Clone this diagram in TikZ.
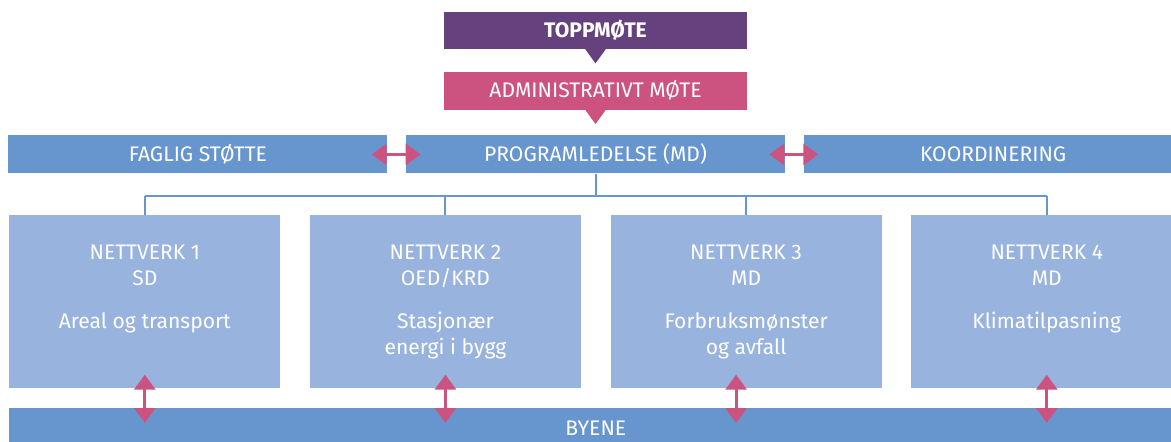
\documentclass[tikz,border=0pt]{standalone}
\usepackage{fontspec}
\setmainfont{Fira Sans}
\usetikzlibrary{positioning,calc,arrows.meta}
\definecolor{topplilla}{RGB}{101,66,126}
\definecolor{adminrosa}{RGB}{204,82,128}
\definecolor{morkbla}{RGB}{103,150,207}
\definecolor{lysbla}{RGB}{152,179,221}

\begin{document}
\begin{tikzpicture}[x=0.02cm,y=-0.02cm,
  font=\fontsize{12}{14.8}\selectfont,
  balk/.style={fill=#1,text=white,inner sep=0pt,minimum height=0.76cm},
  nettverk/.style={fill=lysbla,inner sep=0pt,minimum width=5.42cm,minimum height=3.46cm},
  nettekst/.style={text=white,align=center,inner sep=0pt},
  tre/.style={draw=morkbla,line width=0.04cm},
  dobbel/.style={draw=adminrosa,line width=0.06cm,
    {Triangle[length=0.3cm,width=0.42cm]}-{Triangle[length=0.3cm,width=0.42cm]}}]
  \useasboundingbox (0,0) rectangle (1171,442);
  \clip (0,0) rectangle (1171,442);
  \node[balk=topplilla,minimum width=6.06cm,minimum height=0.74cm] (topp) at (595.5,30.5) {\bfseries TOPPMØTE};
  \node[balk=adminrosa,minimum width=6.06cm] (admin) [below=0.44cm of topp] {ADMINISTRATIVT MØTE};
  \node[balk=morkbla,minimum width=7.58cm] (prog) [below=0.5cm of admin] {PROGRAMLEDELSE (MD)};
  \node[balk=morkbla,minimum width=7.58cm] (faglig) [left=0.36cm of prog] {FAGLIG STØTTE};
  \node[balk=morkbla,minimum width=7.58cm] (koord) [right=0.36cm of prog] {KOORDINERING};
  % pekere under toppmøte og administrativt møte
  \fill[topplilla] ($(topp.south)+(-10.5,-0.5)$) -- ++(21,0) -- ++(-10.5,14.5) -- cycle;
  \fill[adminrosa] ($(admin.south)+(-10.5,-0.5)$) -- ++(21,0) -- ++(-10.5,14.5) -- cycle;
  \node[nettverk,anchor=north west] (n1) at (9,215) {};
  \node[nettverk] (n2) [right=0.58cm of n1] {};
  \node[nettverk] (n3) [right=0.58cm of n2] {};
  \node[nettverk] (n4) [right=0.58cm of n3] {};
  \node[nettekst,below=0.6cm of n1.north] {NETTVERK 1\\SD\\[9.7pt]Areal og transport};
  \node[nettekst,below=0.6cm of n2.north] {NETTVERK 2\\OED/KRD\\[9.7pt]Stasjonær\\energi i bygg};
  \node[nettekst,below=0.6cm of n3.north] {NETTVERK 3\\MD\\[9.7pt]Forbruksmønster\\og avfall};
  \node[nettekst,below=0.6cm of n4.north] {NETTVERK 4\\MD\\[9.7pt]Klimatilpasning};
  \node[balk=morkbla,minimum width=23.46cm,minimum height=0.8cm,anchor=north west] (byene) at (9,408) {BYENE};
  % linjer fra programledelsen ned til nettverkene
  \coordinate (skinne) at ($(prog.south)+(0,22)$);
  \draw[tre] (prog.south) -- (skinne);
  \draw[tre] (n1.north |- skinne) -- (n4.north |- skinne);
  \foreach \n in {n1,n2,n3,n4}
    \draw[tre] (\n.north) -- (\n.north |- skinne);
  \draw[dobbel] ($(faglig.east)+(-16,0)$) -- ($(prog.west)+(15,0)$);
  \draw[dobbel] ($(prog.east)+(-16,0)$) -- ($(koord.west)+(15,0)$);
  \foreach \n/\dx in {n1/0,n2/0,n3/-10,n4/0}
    \draw[dobbel] ($(\n.south)+(\dx,-14)$) -- ($(\n.south |- byene.north)+(\dx,15)$);
\end{tikzpicture}
\end{document}
